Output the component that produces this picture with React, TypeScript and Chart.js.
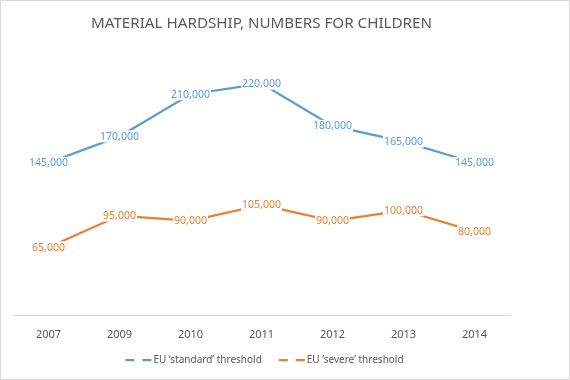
import React, { useEffect, useRef } from "react";
import { Chart, registerables } from "chart.js";

Chart.register(...registerables);

const TITLE = "MATERIAL HARDSHIP, NUMBERS FOR CHILDREN";
const YEARS = ["2007", "2009", "2010", "2011", "2012", "2013", "2014"];
const STANDARD_LABEL = "EU \u2018standard\u2019 threshold";
const SEVERE_LABEL = "EU \u2018severe\u2019 threshold";
const STANDARD = [145000, 170000, 210000, 220000, 180000, 165000, 145000];
const SEVERE = [65000, 95000, 90000, 105000, 90000, 100000, 80000];

const BLUE = "#5B9BD5";
const ORANGE = "#ED7D31";
const FONT = "'Noto Sans', 'Open Sans', sans-serif";

const fmt = (v: number) => v.toLocaleString("en-US");

const decorPlugin = {
  id: "decor",
  afterDatasetsDraw(chart: any) {
    const ctx = chart.ctx;
    ctx.save();
    ctx.font = `10.5px ${FONT}`;
    ctx.textAlign = "center";
    ctx.textBaseline = "middle";
    chart.data.datasets.forEach((ds: any, di: number) => {
      const meta = chart.getDatasetMeta(di);
      meta.data.forEach((pt: any, i: number) => {
        const txt = fmt(ds.data[i]);
        const w = ctx.measureText(txt).width;
        ctx.fillStyle = "#ffffff";
        ctx.fillRect(pt.x - w / 2 - 1, pt.y - 6, w + 2, 12);
        ctx.fillStyle = ds.borderColor;
        ctx.fillText(txt, pt.x, pt.y + 0.5);
      });
    });
    ctx.restore();
  },
  afterDraw(chart: any) {
    const ctx = chart.ctx;
    const W = chart.width;
    const H = chart.height;
    const area = chart.chartArea;
    ctx.save();
    ctx.strokeStyle = "#d9d9d9";
    ctx.lineWidth = 1;
    ctx.strokeRect(0.5, 0.5, W - 1, H - 1);
    const cx = (area.left + area.right) / 2;
    ctx.fillStyle = "#595959";
    ctx.font = `15.2px ${FONT}`;
    ctx.textAlign = "center";
    ctx.textBaseline = "middle";
    ctx.fillText(TITLE, cx, 24);
    ctx.font = `10px ${FONT}`;
    ctx.textAlign = "left";
    const items = chart.data.datasets.map((d: any) => ({ label: d.label, color: d.borderColor }));
    const sample = 26;
    const gapAfterSample = 2;
    const gapBetween = 17;
    const widths = items.map((it: any) => sample + gapAfterSample + ctx.measureText(it.label).width);
    const total = widths.reduce((a: number, b: number) => a + b, 0) + gapBetween * (items.length - 1);
    let x = cx + 3 - total / 2;
    const y = 360;
    items.forEach((it: any, i: number) => {
      ctx.strokeStyle = it.color;
      ctx.lineWidth = 2.25;
      ctx.beginPath();
      ctx.moveTo(x, y);
      ctx.lineTo(x + 9, y);
      ctx.moveTo(x + 17, y);
      ctx.lineTo(x + sample, y);
      ctx.stroke();
      ctx.fillStyle = "#595959";
      ctx.fillText(it.label, x + sample + gapAfterSample, y);
      x += widths[i] + gapBetween;
    });
    ctx.restore();
  },
};

export default function App() {
  const ref = useRef<HTMLCanvasElement>(null);
  useEffect(() => {
    document.body.style.margin = "0";
    const chart = new Chart(ref.current!, {
      type: "line",
      data: {
        labels: YEARS,
        datasets: [
          {
            label: STANDARD_LABEL,
            data: STANDARD,
            borderColor: BLUE,
            backgroundColor: BLUE,
            borderWidth: 2.25,
            pointRadius: 0,
            tension: 0,
          },
          {
            label: SEVERE_LABEL,
            data: SEVERE,
            borderColor: ORANGE,
            backgroundColor: ORANGE,
            borderWidth: 2.25,
            pointRadius: 0,
            tension: 0,
          },
        ],
      },
      options: {
        animation: false,
        responsive: false,
        layout: { padding: { left: 13, right: 60, top: 52, bottom: 27 } },
        plugins: {
          legend: { display: false },
          title: { display: false },
          tooltip: { enabled: false },
        },
        scales: {
          x: {
            offset: true,
            grid: { display: false, drawTicks: false },
            border: { display: true, color: "#d9d9d9", width: 1 },
            ticks: {
              color: "#595959",
              font: { family: FONT, size: 11 },
              padding: 12,
            },
          },
          y: {
            display: false,
            min: 0,
            max: 250000,
          },
        },
      },
      plugins: [decorPlugin],
    });
    return () => chart.destroy();
  }, []);
  return (
    <div style={{ width: 570, height: 380 }}>
      <canvas ref={ref} width={570} height={380} style={{ display: "block" }} />
    </div>
  );
}
